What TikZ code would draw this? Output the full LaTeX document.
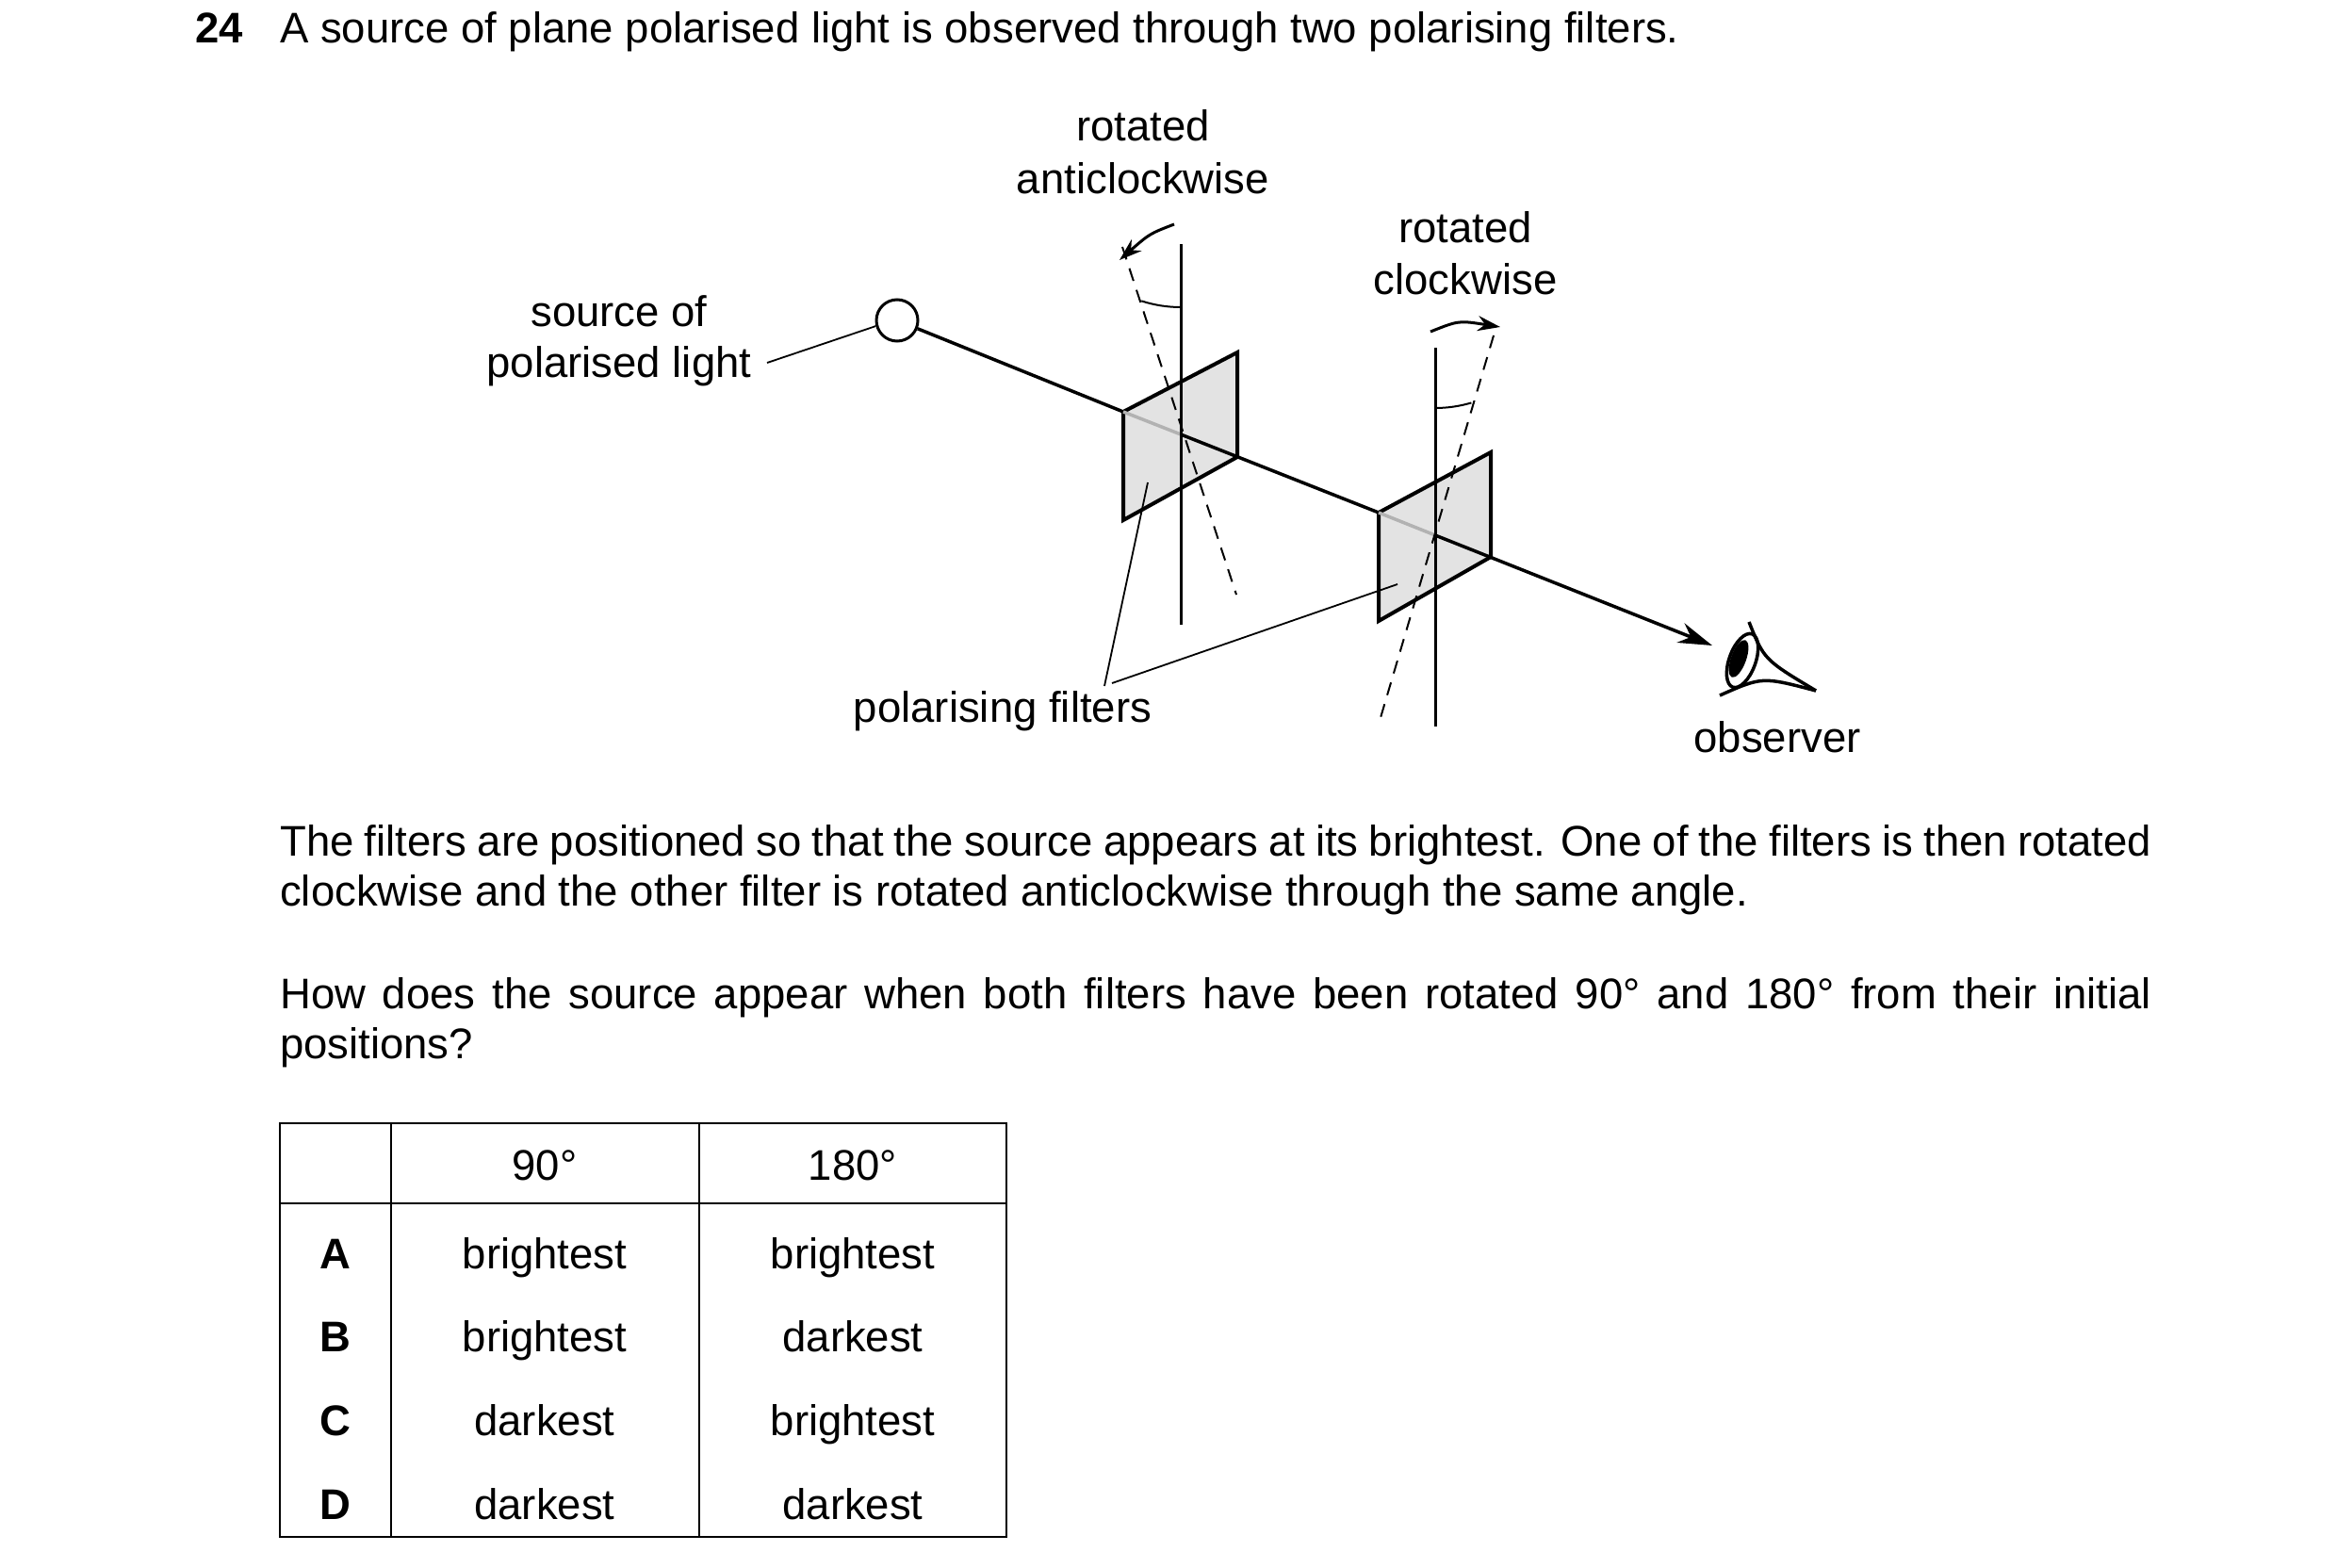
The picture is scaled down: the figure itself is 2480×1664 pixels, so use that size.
\documentclass[tikz,border=0pt]{standalone}
\usepackage{fontspec}
\setmainfont{Liberation Sans}
\usetikzlibrary{arrows.meta}
\begin{document}
\begin{tikzpicture}[x=1pt,y=-1pt,
  txt/.style={font=\fontsize{45.5}{53}\selectfont,inner sep=0pt,anchor=base},
  bf/.style={font=\fontsize{45.5}{53}\selectfont\bfseries},
  panel/.style={line width=4pt,fill=gray!22,line join=miter},
  beam/.style={line width=3.5pt},
  axis/.style={line width=3pt},
  dsh/.style={line width=2pt,dash pattern=on 14pt off 10pt},
  lead/.style={line width=1.8pt},
  thin/.style={line width=2pt},
  rot/.style={line width=3pt,-{Stealth[length=24pt,width=16pt]}},
  tl/.style={line width=2pt}]
\useasboundingbox (0,0) rectangle (2480,1664);
% title
\node[txt,anchor=base west,bf] (num) at (207,46) {24};
\node[txt,anchor=base west] (title) at (297,46) {A source of plane polarised light is observed through two polarising filters.};
% source
\node[circle,draw,line width=3pt,minimum size=44pt,inner sep=0pt] (src) at (952,340) {};
\coordinate (p1a) at (1192,437); \coordinate (p1b) at (1192,552);
\coordinate (p1c) at (1313,485); \coordinate (p1d) at (1313,374);
\coordinate (p2a) at (1463,544); \coordinate (p2b) at (1463,659);
\coordinate (p2c) at (1582,591); \coordinate (p2d) at (1582,480);
\coordinate (x1) at (1253,461); \coordinate (x2) at (1523,568);
\coordinate (tip) at (1817,685);
% beam to first filter
\draw[beam] (src.-22) -- (p1a);
% filter 1
\draw[panel] (p1a) -- (p1b) -- (p1c) -- (p1d) -- cycle;
\draw[beam,gray!60] (p1a) -- (x1);
\draw[beam] (x1) -- (p2a);
\draw[axis] (1253,259) -- (1253,663);
\draw[dsh] (1191,262) -- (1312,631);
\draw[thin] (1253,326) arc[start angle=90,end angle=108,radius=135];
\draw[rot] (1246,238) .. controls (1220,248) .. (1188,276);
% filter 2
\draw[panel] (p2a) -- (p2b) -- (p2c) -- (p2d) -- cycle;
\draw[beam,gray!60] (p2a) -- (x2);
\draw[beam,-{Stealth[length=36pt,width=22pt]}] (x2) -- (tip);
\draw[axis] (1523,369) -- (1523,771);
\draw[dsh] (1585,356) -- (1464,765);
\draw[thin] (1523,433) arc[start angle=90,end angle=73.5,radius=135];
\draw[rot] (1518,352) .. controls (1548,340) .. (1592,347);
% eye
\draw[line width=3.5pt,rotate around={-20:(1849,701)}] (1849,701) ellipse[x radius=14,y radius=30];
\fill[rotate around={-20:(1845,699)}] (1845,699) ellipse[x radius=8,y radius=21];
\draw[line width=3.5pt] (1856,660) .. controls (1872,700) .. (1927,733);
\draw[line width=3.5pt] (1825,738) .. controls (1870,718) .. (1927,733);
% labels
\node[txt] (rac1) at (1213,150) {rotated};
\node[txt] (rac2) at (1213,205) {anticlockwise};
\node[txt] (rc1) at (1555,257) {rotated};
\node[txt] (rc2) at (1555,312) {clockwise};
\node[txt] (sl1) at (657,346) {source of};
\node[txt] (sl2) at (657,400) {polarised light};
\node[txt] (pf) at (1064,766) {polarising filters};
\node[txt] (obs) at (1886,798) {observer};
\coordinate (pfl1) at (1172,728); \coordinate (pfl2) at (1180,725);
\coordinate (f1pt) at (1218,512); \coordinate (f2pt) at (1483,620);
\coordinate (sll) at (814,385);
\draw[lead] (pfl1) -- (f1pt);
\draw[lead] (pfl2) -- (f2pt);
\draw[lead] (sll) -- (src.-165);
% paragraphs
\node[inner sep=0pt,anchor=north west,text width=1986pt,align=justify,font=\fontsize{45.5}{53}\selectfont] (par1) at (297,871) {\strut The filters are positioned so that the source appears at its brightest. One of the filters is then rotated clockwise and the other filter is rotated anticlockwise through the same angle.};
\node[inner sep=0pt,anchor=north west,text width=1986pt,align=justify,font=\fontsize{45.5}{53}\selectfont] (par2) at (297,1033) {\strut How does the source appear when both filters have been rotated 90° and 180° from their initial positions?};
% table
\draw[tl] (297,1192) rectangle (1068,1631);
\draw[tl] (297,1277) -- (1068,1277);
\draw[tl] (415,1192) -- (415,1631);
\draw[tl] (742,1192) -- (742,1631);
\node[txt] (h1) at (578,1252) {90°};
\node[txt] (h2) at (905,1252) {180°};
\node[txt,bf] (ra) at (356,1346) {A};
\node[txt] (a1) at (578,1346) {brightest};
\node[txt] (a2) at (905,1346) {brightest};
\node[txt,bf] (rb) at (356,1434) {B};
\node[txt] (b1) at (578,1434) {brightest};
\node[txt] (b2) at (905,1434) {darkest};
\node[txt,bf] (rc) at (356,1523) {C};
\node[txt] (c1) at (578,1523) {darkest};
\node[txt] (c2) at (905,1523) {brightest};
\node[txt,bf] (rd) at (356,1612) {D};
\node[txt] (d1) at (578,1612) {darkest};
\node[txt] (d2) at (905,1612) {darkest};
\end{tikzpicture}
\end{document}
